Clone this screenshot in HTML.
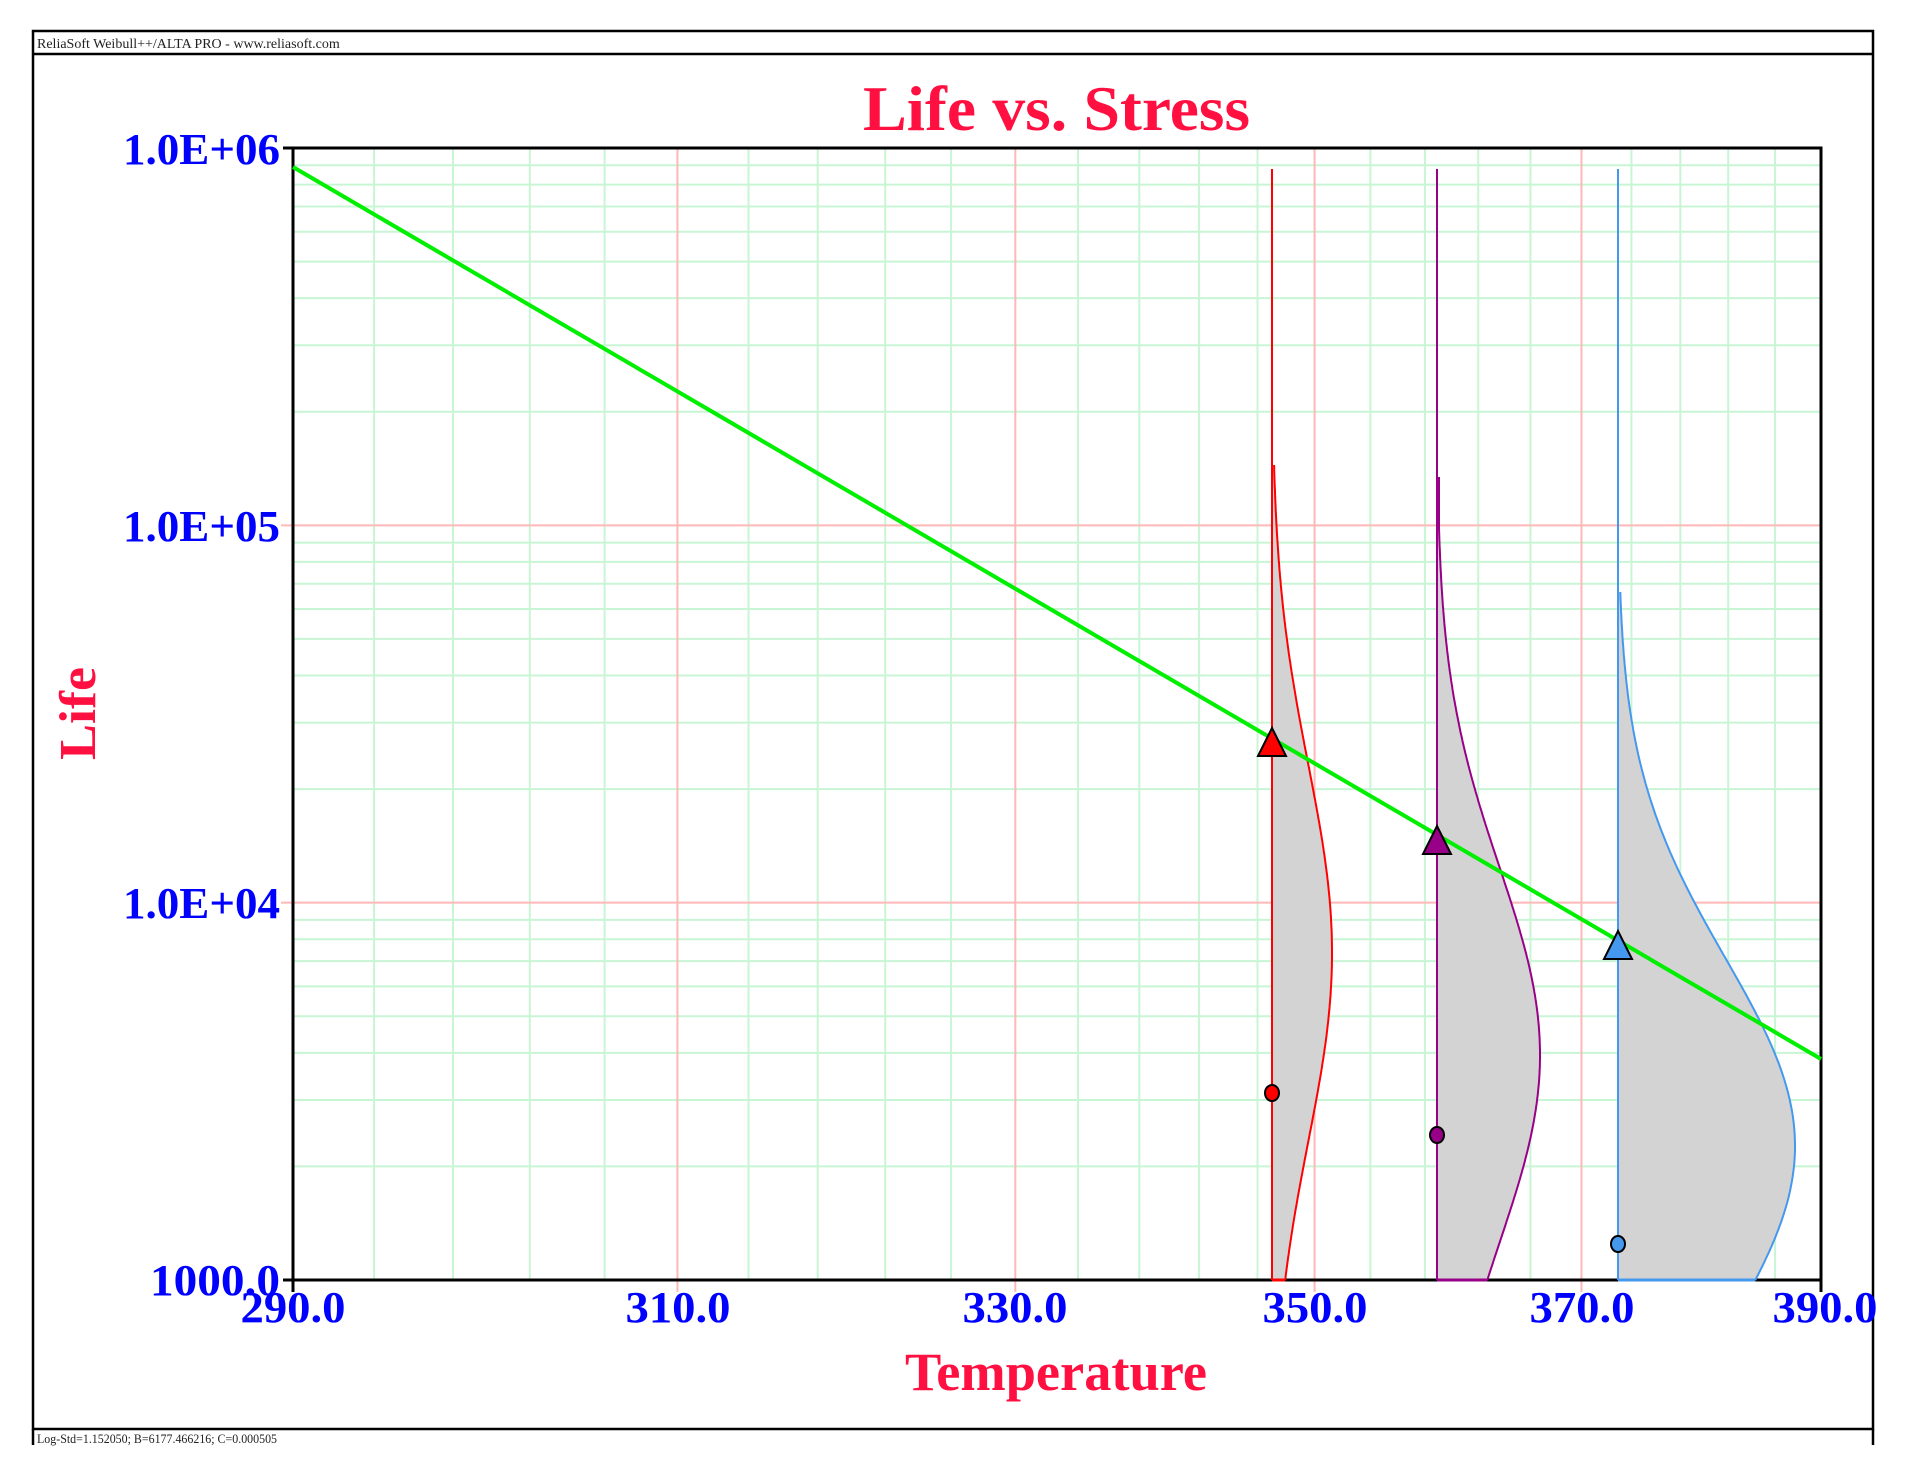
<!DOCTYPE html>
<html><head><meta charset="utf-8"><style>
html,body{margin:0;padding:0;background:#fff;width:1912px;height:1475px;overflow:hidden}
svg{display:block}
text{font-family:"Liberation Serif",serif}
</style></head><body>
<svg id="s" width="1912" height="1475" xmlns="http://www.w3.org/2000/svg">
<g id="grid"></g>
<g id="data"></g>
<rect x="33" y="31" width="1840" height="1398" fill="none" stroke="#000" stroke-width="2.5"/>
<line x1="33" y1="54" x2="1873" y2="54" stroke="#000" stroke-width="2.5"/>
<line x1="33" y1="1429" x2="33" y2="1445" stroke="#000" stroke-width="2.5"/>
<line x1="1873" y1="1429" x2="1873" y2="1445" stroke="#000" stroke-width="2.5"/>
<text x="37" y="48" font-size="14" fill="#222">ReliaSoft Weibull++/ALTA PRO - www.reliasoft.com</text>
<text x="37" y="1443" font-size="13" fill="#222" textLength="240" lengthAdjust="spacingAndGlyphs">Log-Std=1.152050; B=6177.466216; C=0.000505</text>
<text x="863" y="130" font-size="64" font-weight="bold" fill="#ff1040" textLength="387" lengthAdjust="spacingAndGlyphs">Life vs. Stress</text>
<text x="905" y="1390" font-size="54" font-weight="bold" fill="#ff1040" textLength="302" lengthAdjust="spacingAndGlyphs">Temperature</text>
<text transform="translate(95,760) rotate(-90)" font-size="52" font-weight="bold" fill="#ff1040" textLength="93" lengthAdjust="spacingAndGlyphs">Life</text>
<g font-size="44" font-weight="bold" fill="#0000ff">
<text x="280" y="164" text-anchor="end" textLength="157" lengthAdjust="spacingAndGlyphs">1.0E+06</text>
<text x="280" y="541" text-anchor="end" textLength="157" lengthAdjust="spacingAndGlyphs">1.0E+05</text>
<text x="280" y="918" text-anchor="end" textLength="157" lengthAdjust="spacingAndGlyphs">1.0E+04</text>
<text x="280" y="1295" text-anchor="end" textLength="130" lengthAdjust="spacingAndGlyphs">1000.0</text>
<text x="293" y="1322" text-anchor="middle" textLength="105" lengthAdjust="spacingAndGlyphs">290.0</text>
<text x="678" y="1322" text-anchor="middle" textLength="105" lengthAdjust="spacingAndGlyphs">310.0</text>
<text x="1015" y="1322" text-anchor="middle" textLength="105" lengthAdjust="spacingAndGlyphs">330.0</text>
<text x="1315" y="1322" text-anchor="middle" textLength="105" lengthAdjust="spacingAndGlyphs">350.0</text>
<text x="1582" y="1322" text-anchor="middle" textLength="105" lengthAdjust="spacingAndGlyphs">370.0</text>
<text x="1825" y="1322" text-anchor="middle" textLength="105" lengthAdjust="spacingAndGlyphs">390.0</text>
</g>
</svg>
<script>
(function(){
var NS="http://www.w3.org/2000/svg";
var L=293,R=1821,T=148,B=1280,D=377.33;
function X(t){return L+(1/290-1/t)/(1/290-1/390)*(R-L);}
function Y(v){return B-Math.log10(v/1000)*D;}
function el(p,n,a){var e=document.createElementNS(NS,n);for(var k in a)e.setAttribute(k,a[k]);p.appendChild(e);return e;}
var g=document.getElementById('grid'),d=document.getElementById('data');
for(var t=294;t<390;t+=4){if(t%20==10)continue;var x=X(t);el(g,'line',{x1:x,y1:T,x2:x,y2:B,stroke:'#c8f5d4','stroke-width':2});}
for(var dec=3;dec<6;dec++)for(var m=2;m<=9;m++){var y=Y(m*Math.pow(10,dec));el(g,'line',{x1:L,y1:y,x2:R,y2:y,stroke:'#c8f5d4','stroke-width':2});}
[310,330,350,370].forEach(function(t){var x=X(t);el(g,'line',{x1:x,y1:T,x2:x,y2:B+12,stroke:'#ffb8b8','stroke-width':2});});
[1e4,1e5].forEach(function(v){var y=Y(v);el(g,'line',{x1:L-12,y1:y,x2:R,y2:y,stroke:'#ffb8b8','stroke-width':2});});
el(g,'rect',{x:L,y:T,width:R-L,height:B-T,fill:'none',stroke:'#000','stroke-width':3});
el(g,'line',{x1:L-10,y1:T,x2:L,y2:T,stroke:'#000','stroke-width':3});
el(g,'line',{x1:L-10,y1:B,x2:L,y2:B,stroke:'#000','stroke-width':3});
el(g,'line',{x1:L,y1:B,x2:L,y2:B+12,stroke:'#000','stroke-width':3});
el(g,'line',{x1:R,y1:B,x2:R,y2:B+12,stroke:'#000','stroke-width':3});
var S=[{x:1272,c:'#ff0000',yp:953,a:60,top:465,ty:741,cy:1093},
       {x:1437,c:'#990088',yp:1055,a:103,top:477,ty:839,cy:1135},
       {x:1618,c:'#4499ee',yp:1146,a:177,top:592,ty:944,cy:1244}];
var s=188;
S.forEach(function(o){
  var pts=[];for(var y=o.top;y<=B;y+=3){var off=o.a*Math.exp(-Math.pow(y-o.yp,2)/(2*s*s));pts.push((o.x+Math.max(off,2)).toFixed(1)+','+y);}
  pts.push((o.x+o.a*Math.exp(-Math.pow(B-o.yp,2)/(2*s*s))).toFixed(1)+','+B);
  el(d,'polygon',{points:o.x+','+o.top+' '+pts.join(' ')+' '+o.x+','+B,fill:'#d3d3d3'});
  el(d,'polyline',{points:pts.join(' '),fill:'none',stroke:o.c,'stroke-width':2});
  el(d,'line',{x1:o.x,y1:169,x2:o.x,y2:B,stroke:o.c,'stroke-width':2});
  el(d,'line',{x1:o.x,y1:B,x2:pts[pts.length-1].split(',')[0],y2:B,stroke:o.c,'stroke-width':3});
});
el(d,'line',{x1:L,y1:167,x2:R,y2:1059,stroke:'#00ee00','stroke-width':4});
S.forEach(function(o){
  el(d,'polygon',{points:(o.x-14)+','+(o.ty+15)+' '+(o.x+14)+','+(o.ty+15)+' '+o.x+','+(o.ty-13),fill:o.c,stroke:'#000','stroke-width':2});
  el(d,'ellipse',{cx:o.x,cy:o.cy,rx:7,ry:8,fill:o.c,stroke:'#000','stroke-width':2});
});
})();
</script>
</body></html>
